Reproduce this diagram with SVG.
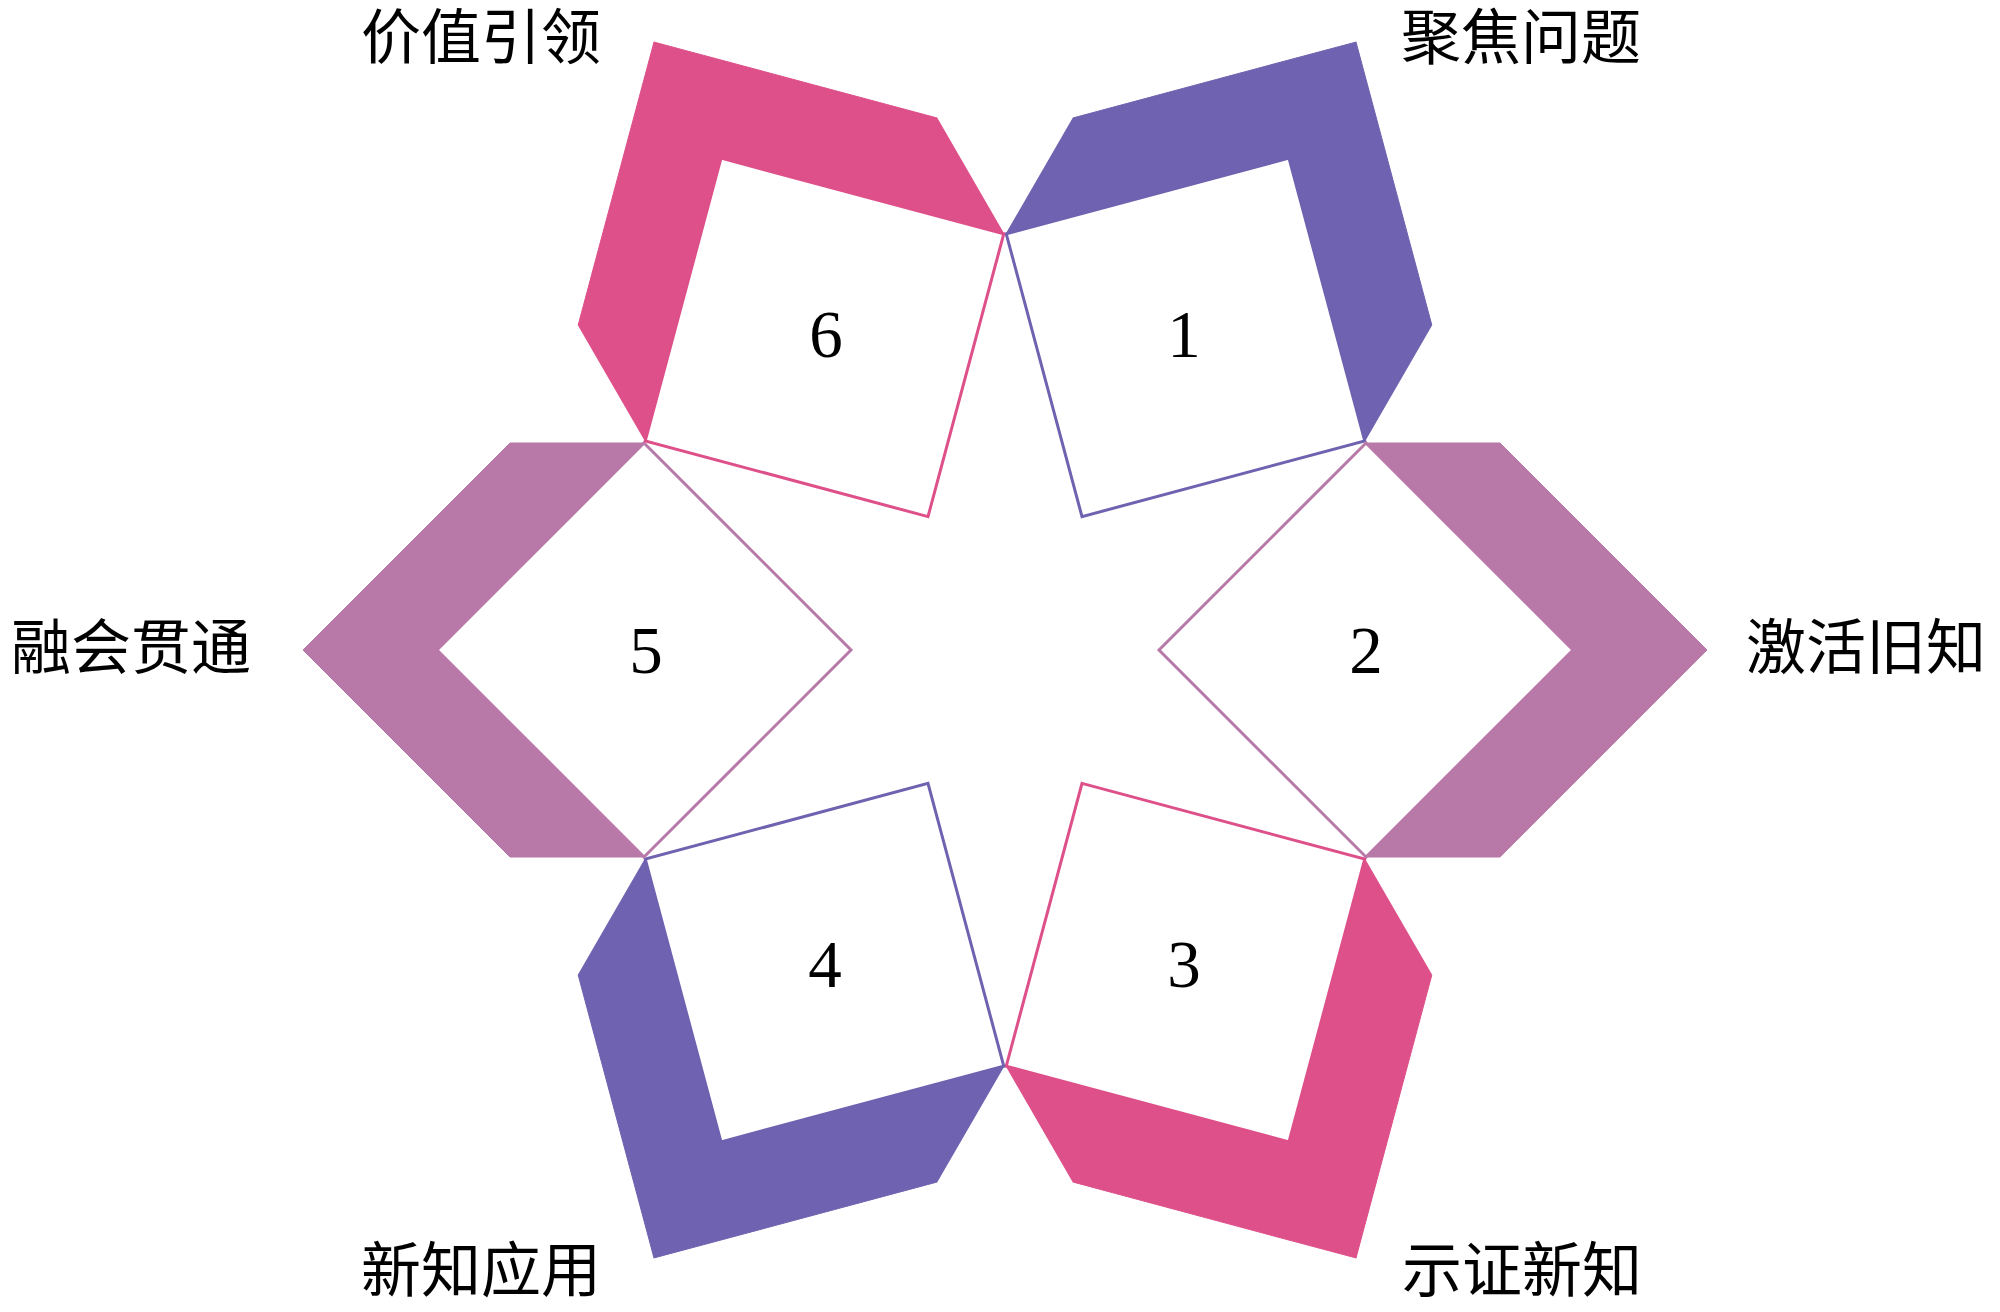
<svg xmlns="http://www.w3.org/2000/svg" width="2000" height="1312" viewBox="0 0 2000 1312">
  <style>
    .sq { fill: #ffffff; stroke-width: 3; stroke-linejoin: miter; }
    .band { stroke-width: 1; stroke-linejoin: miter; }
    .purple .sq { stroke: #6f62b0; }
    .purple .band { fill: #6f62b0; stroke: #6f62b0; }
    .pink .sq { stroke: #de508a; }
    .pink .band { fill: #de508a; stroke: #de508a; }
    .mauve .sq { stroke: #b878a8; }
    .mauve .band { fill: #b878a8; stroke: #b878a8; }
    .num { font-family: "Liberation Serif", "Times New Roman", serif; font-size: 67px; fill: #000000; text-anchor: middle; }
    .label { font-family: "Noto Sans CJK SC", sans-serif; font-size: 60px; fill: #000000; text-anchor: middle; }
  </style>
  <rect width="2000" height="1312" fill="#ffffff"/>
  <g id="connectors"></g>

  <g id="node-1" class="purple">
    <g transform="rotate(-60 1005 650)">
      <polygon class="sq" points="1159,650 1366,443 1573,650 1366,857"/>
      <polygon class="band" points="1366,443 1500,443 1707,650 1500,857 1366,857 1573,650"/>
    </g>
    <text class="num" x="1184" y="357">1</text>
  </g>
  <g id="node-2" class="mauve">
    <g>
      <polygon class="sq" points="1159,650 1366,443 1573,650 1366,857"/>
      <polygon class="band" points="1366,443 1500,443 1707,650 1500,857 1366,857 1573,650"/>
    </g>
    <text class="num" x="1366" y="673">2</text>
  </g>
  <g id="node-3" class="pink">
    <g transform="rotate(60 1005 650)">
      <polygon class="sq" points="1159,650 1366,443 1573,650 1366,857"/>
      <polygon class="band" points="1366,443 1500,443 1707,650 1500,857 1366,857 1573,650"/>
    </g>
    <text class="num" x="1184" y="987">3</text>
  </g>
  <g id="node-4" class="purple">
    <g transform="rotate(120 1005 650)">
      <polygon class="sq" points="1159,650 1366,443 1573,650 1366,857"/>
      <polygon class="band" points="1366,443 1500,443 1707,650 1500,857 1366,857 1573,650"/>
    </g>
    <text class="num" x="825" y="987">4</text>
  </g>
  <g id="node-5" class="mauve">
    <g transform="rotate(180 1005 650)">
      <polygon class="sq" points="1159,650 1366,443 1573,650 1366,857"/>
      <polygon class="band" points="1366,443 1500,443 1707,650 1500,857 1366,857 1573,650"/>
    </g>
    <text class="num" x="646" y="673">5</text>
  </g>
  <g id="node-6" class="pink">
    <g transform="rotate(240 1005 650)">
      <polygon class="sq" points="1159,650 1366,443 1573,650 1366,857"/>
      <polygon class="band" points="1366,443 1500,443 1707,650 1500,857 1366,857 1573,650"/>
    </g>
    <text class="num" x="826" y="357">6</text>
  </g>

  <g id="labels">
    <text class="label" x="481" y="59">价值引领</text>
    <text class="label" x="1521" y="59">聚焦问题</text>
    <text class="label" x="131" y="669">融会贯通</text>
    <text class="label" x="1866" y="669">激活旧知</text>
    <text class="label" x="481" y="1292">新知应用</text>
    <text class="label" x="1522" y="1292">示证新知</text>
  </g>
</svg>
